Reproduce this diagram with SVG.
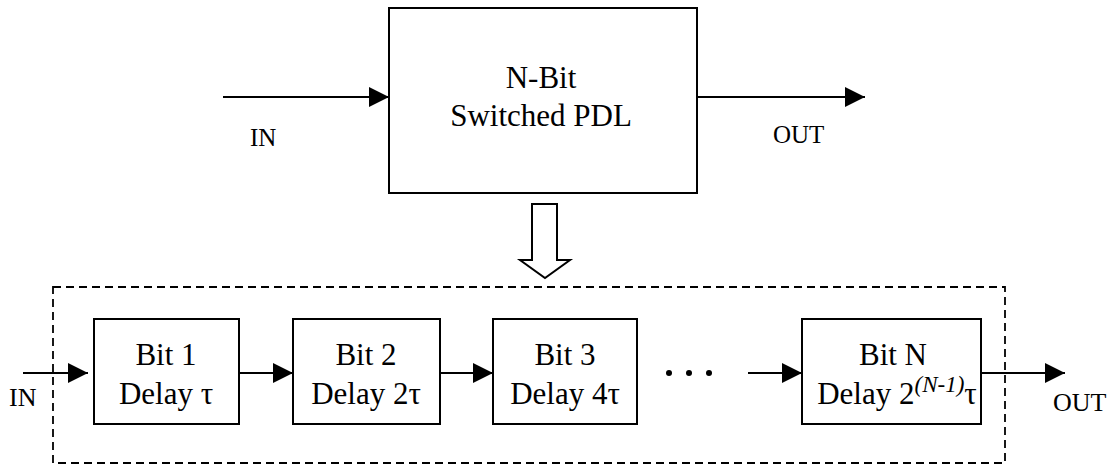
<svg xmlns="http://www.w3.org/2000/svg" width="1110" height="465" viewBox="0 0 1110 465" font-family="'Liberation Serif', 'Times New Roman', serif">
  <style>
    .box { fill: #fff; stroke: #000; stroke-width: 2; }
    .wire { fill: none; stroke: #000; stroke-width: 2; marker-end: url(#head); }
  </style>
  <defs>
    <marker id="head" viewBox="0 0 20 20" refX="20" refY="10" markerWidth="20" markerHeight="20" markerUnits="userSpaceOnUse" orient="auto">
      <path d="M0,0 L20,10 L0,20 Z" fill="#000"/>
    </marker>
  </defs>

  <rect width="1110" height="465" fill="#fff"/>

  <!-- top level block -->
  <g id="pdl" font-size="31" text-anchor="middle">
    <rect class="box" x="389" y="8" width="308" height="185"/>
    <text x="541" y="88">N-Bit</text>
    <text x="541" y="126">Switched PDL</text>
  </g>

  <!-- expansion into the cascade -->
  <g id="expand">
    <polygon points="532,204 557,204 557,260 570,260 545,278 520,260 532,260" fill="#fff" stroke="#000" stroke-width="2"/>
  </g>

  <!-- dashed boundary of the cascade -->
  <g id="cascade">
    <rect x="53" y="287" width="952" height="176" fill="none" stroke="#000" stroke-width="1.8" stroke-dasharray="8 5"/>
  </g>

  <g id="bit1" font-size="31" text-anchor="middle">
    <rect class="box" x="94" y="319" width="145" height="105"/>
    <text x="166" y="365">Bit 1</text>
    <text x="166" y="404">Delay τ</text>
  </g>
  <g id="bit2" font-size="31" text-anchor="middle">
    <rect class="box" x="293" y="319" width="147" height="105"/>
    <text x="366" y="365">Bit 2</text>
    <text x="366" y="404">Delay 2τ</text>
  </g>
  <g id="bit3" font-size="31" text-anchor="middle">
    <rect class="box" x="493" y="319" width="144" height="105"/>
    <text x="565" y="365">Bit 3</text>
    <text x="565" y="404">Delay 4τ</text>
  </g>
  <g id="bitN" font-size="31" text-anchor="middle">
    <rect class="box" x="802" y="319" width="179" height="105"/>
    <text x="893" y="365">Bit N</text>
    <text x="897" y="404">Delay 2<tspan dy="-12" font-size="23" font-style="italic">(N-1)</tspan><tspan dy="12">τ</tspan></text>
  </g>

  <g id="ellipsis">
    <circle cx="669" cy="373" r="3"/>
    <circle cx="689" cy="373" r="3"/>
    <circle cx="709" cy="373" r="3"/>
  </g>

  <!-- connectors -->
  <g id="connectors">
    <line class="wire" x1="223" y1="97" x2="389" y2="97"/>
    <line class="wire" x1="697" y1="97" x2="865" y2="97"/>
    <line class="wire" x1="23" y1="373" x2="88" y2="373"/>
    <line class="wire" x1="239" y1="373" x2="293" y2="373"/>
    <line class="wire" x1="440" y1="373" x2="493" y2="373"/>
    <line class="wire" x1="748" y1="373" x2="802" y2="373"/>
    <line class="wire" x1="981" y1="373" x2="1065" y2="373"/>
  </g>

  <!-- port labels -->
  <g id="labels">
    <text x="250" y="146" font-size="25">IN</text>
    <text x="773" y="143" font-size="25">OUT</text>
    <text x="9" y="406" font-size="26">IN</text>
    <text x="1053" y="411" font-size="26">OUT</text>
  </g>
</svg>
